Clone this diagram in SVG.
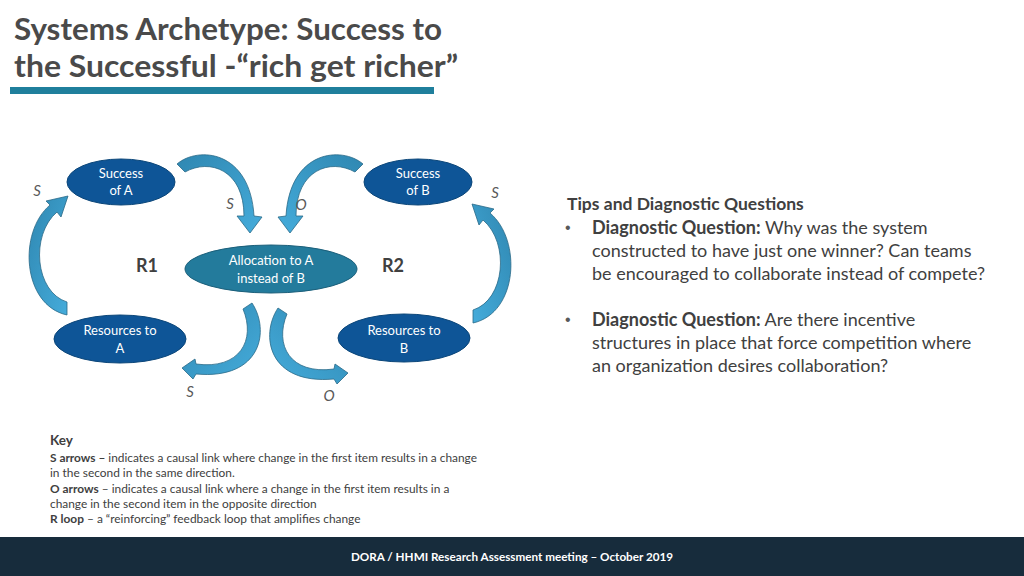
<svg xmlns="http://www.w3.org/2000/svg" width="1024" height="576" viewBox="0 0 1024 576">
<defs>
<style>
.node{fill:#0e5597;stroke:#0b4679;stroke-width:1}
.alloc{fill:#237b9c;stroke:#1b5f7a;stroke-width:1}
.nt{font-family:Lato,"Liberation Sans",sans-serif;font-size:13px;fill:#ffffff;text-anchor:middle}
.arr{fill:url(#ag);stroke:#2a6a88;stroke-width:0.8}
.lbl{font-family:Lato,"Liberation Sans",sans-serif;font-size:15px;font-style:italic;fill:#595959;text-anchor:middle}
.rl{font-family:Lato,"Liberation Sans",sans-serif;font-size:18px;font-weight:bold;fill:#404040;text-anchor:middle}
.title{font-family:Lato,"Liberation Sans",sans-serif;font-size:31px;font-weight:bold;fill:#4a4a4a}
.tip{font-family:Lato,"Liberation Sans",sans-serif;font-size:18px;fill:#404040}
.bul{font-family:"Liberation Sans",sans-serif;font-size:16px;fill:#595959}
.key{font-family:Lato,"Liberation Sans",sans-serif;font-size:11.9px;fill:#404040}
.b{font-weight:bold}
</style>
<linearGradient id="ag" x1="0" y1="0" x2="1" y2="1">
<stop offset="0" stop-color="#2f87b1"/>
<stop offset="1" stop-color="#45acdb"/>
</linearGradient>
</defs>
<rect width="1024" height="576" fill="#ffffff"/>

<g id="title">
<text class="title" x="14" y="40" textLength="428" lengthAdjust="spacingAndGlyphs">Systems Archetype: Success to</text>
<text class="title" x="14" y="77" textLength="444" lengthAdjust="spacingAndGlyphs">the Successful -“rich get richer”</text>
<rect x="10" y="87" width="424" height="7" fill="#1f7f9c"/>
</g>

<g id="connectors">
<path id="arrow-ra-sa" class="arr" d="M67,302 C35,292 30,235 57,212 L61,217 L68,196 L46,201 L50,205 C18,232 22,305 67,315 Z"/>
<path id="arrow-rb-sb" class="arr" transform="translate(540,8) scale(-1,1)" d="M67,302 C35,292 30,235 57,212 L61,217 L68,196 L46,201 L50,205 C18,232 22,305 67,315 Z"/>
<path id="arrow-sa-al" class="arr" d="M177,164 C198,146 250,150 254,216 L262,217 L250,233 L237,216 L244,216 C244,170 210,158 185,172 Z"/>
<path id="arrow-sb-al" class="arr" transform="translate(540,0) scale(-1,1)" d="M177,164 C198,146 250,150 254,216 L262,217 L250,233 L237,216 L244,216 C244,170 210,158 185,172 Z"/>
<path id="arrow-al-ra" class="arr" d="M243,309 L252,303 C270,330 262,380 196,374 L193,379 L182,368 L195,359 L196,364 C240,370 256,340 243,309 Z"/>
<path id="arrow-al-rb" class="arr" transform="translate(530,5) scale(-1,1)" d="M243,309 L252,303 C270,330 262,380 196,374 L193,379 L182,368 L195,359 L196,364 C240,370 256,340 243,309 Z"/>
<text class="lbl" x="37" y="196">S</text>
<text class="lbl" x="230" y="209">S</text>
<text class="lbl" x="301" y="210">O</text>
<text class="lbl" x="495" y="198">S</text>
<text class="lbl" x="190" y="397">S</text>
<text class="lbl" x="329" y="401">O</text>
<text class="rl" x="147" y="272">R1</text>
<text class="rl" x="393" y="272">R2</text>
</g>

<g id="node-success-a">
<ellipse class="node" cx="121" cy="182" rx="54" ry="23"/>
<text class="nt" x="121" y="178">Success</text>
<text class="nt" x="121" y="195">of A</text>
</g>
<g id="node-success-b">
<ellipse class="node" cx="418" cy="182" rx="54" ry="23"/>
<text class="nt" x="418" y="178">Success</text>
<text class="nt" x="418" y="195">of B</text>
</g>
<g id="node-allocation">
<ellipse class="alloc" cx="271" cy="269" rx="86" ry="24"/>
<text class="nt" x="271" y="265">Allocation to A</text>
<text class="nt" x="271" y="283">instead of B</text>
</g>
<g id="node-resources-a">
<ellipse class="node" cx="120" cy="339" rx="66" ry="24"/>
<text class="nt" x="120" y="335">Resources to</text>
<text class="nt" x="120" y="353">A</text>
</g>
<g id="node-resources-b">
<ellipse class="node" cx="404" cy="338" rx="66" ry="24"/>
<text class="nt" x="404" y="335">Resources to</text>
<text class="nt" x="404" y="353">B</text>
</g>

<g id="tips">
<text class="tip b" x="567" y="210" style="font-size:17.5px">Tips and Diagnostic Questions</text>
<text class="bul" x="565" y="233">•</text>
<text class="tip" x="592" y="234"><tspan class="b">Diagnostic Question:</tspan> Why was the system</text>
<text class="tip" x="592" y="257">constructed to have just one winner? Can teams</text>
<text class="tip" x="592" y="280" textLength="393" lengthAdjust="spacingAndGlyphs">be encouraged to collaborate instead of compete?</text>
<text class="bul" x="565" y="325">•</text>
<text class="tip" x="592" y="326"><tspan class="b">Diagnostic Question:</tspan> Are there incentive</text>
<text class="tip" x="592" y="349">structures in place that force competition where</text>
<text class="tip" x="592" y="372">an organization desires collaboration?</text>
</g>

<g id="key">
<text class="key b" x="50" y="445" style="font-size:13.5px">Key</text>
<text class="key" x="50" y="462" textLength="427" lengthAdjust="spacingAndGlyphs"><tspan class="b">S arrows –</tspan> indicates a causal link where change in the first item results in a change</text>
<text class="key" x="50" y="477">in the second in the same direction.</text>
<text class="key" x="50" y="493"><tspan class="b">O arrows</tspan> – indicates a causal link where a change in the first item results in a</text>
<text class="key" x="50" y="508">change in the second item in the opposite direction</text>
<text class="key" x="50" y="523"><tspan class="b">R loop</tspan> – a “reinforcing” feedback loop that amplifies change</text>
</g>

<g id="footer">
<rect x="0" y="537" width="1024" height="39" fill="#172c3c"/>
<text x="512" y="561" text-anchor="middle" font-family="Lato,'Liberation Sans',sans-serif" font-size="11.7" font-weight="bold" fill="#ffffff">DORA / HHMI Research Assessment meeting – October 2019</text>
</g>
</svg>
